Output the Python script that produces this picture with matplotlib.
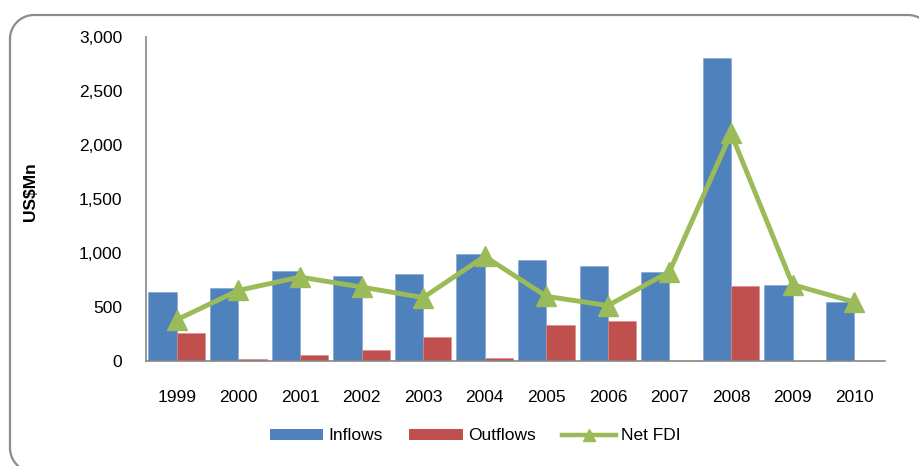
import matplotlib
matplotlib.use("Agg")
import matplotlib.pyplot as plt
import numpy as np
from matplotlib.lines import Line2D
from matplotlib.patches import Patch

years = ["1999", "2000", "2001", "2002", "2003", "2004", "2005", "2006", "2007", "2008", "2009", "2010"]
inflows = [640, 676, 830, 787, 806, 994, 935, 880, 827, 2806, 707, 546]
outflows = [258, 22, 53, 102, 219, 25, 336, 367, 0, 698, 0, 0]
net_fdi = [382, 654, 777, 685, 587, 969, 599, 513, 827, 2108, 707, 546]
yticks = [0, 500, 1000, 1500, 2000, 2500, 3000]

plt.rcParams['font.family'] = ['Liberation Sans', 'DejaVu Sans']

W, H = 919, 466
fig = plt.figure(figsize=(W / 100, H / 100), dpi=100)

# background frame axes in pixel units (y downward)
bg = fig.add_axes([0, 0, 1, 1])
bg.set_xlim(0, W)
bg.set_ylim(H, 0)
bg.axis('off')
fl, ft, fr, fb, r = 10, 15, 932, 472, 24
t = np.linspace(0, np.pi / 2, 30)
xs, ys = [], []
# top-left corner (from left edge to top edge)
xs += list(fl + r - r * np.cos(t)); ys += list(ft + r - r * np.sin(t))
# top-right corner
xs += list(fr - r + r * np.sin(t)); ys += list(ft + r - r * np.cos(t))
# bottom-right corner
xs += list(fr - r + r * np.cos(t)); ys += list(fb - r + r * np.sin(t))
# bottom-left corner
xs += list(fl + r - r * np.sin(t)); ys += list(fb - r + r * np.cos(t))
xs.append(xs[0]); ys.append(ys[0])
bg.plot(xs, ys, color='#8c8c8c', linewidth=1.6, clip_on=False, solid_capstyle='round')

left, right, bottom, top = 146, 885, 361, 37
ax = fig.add_axes([left / W, 1 - bottom / H, (right - left) / W, (bottom - top) / H])
ax.patch.set_alpha(0)

x = np.arange(len(years))
bw = 0.46
ax.bar(x - bw / 2, inflows, width=bw, color='#4F81BD', edgecolor='#7fa3d3', linewidth=0.4, zorder=2)
ax.bar(x + bw / 2, outflows, width=bw, color='#C0504D', edgecolor='#d88a88', linewidth=0.4, zorder=2)
ax.plot(x, net_fdi, color='#9BBB59', linewidth=3.5, marker='^', markersize=14,
        markerfacecolor='#9BBB59', markeredgecolor='#9BBB59', zorder=3)

ax.set_xlim(-0.5, len(years) - 0.5)
ax.set_ylim(0, 3000)
ax.set_yticks(yticks)
ax.set_yticklabels([f"{v:,}" for v in yticks])
ax.set_xticks(x)
ax.set_xticklabels(years)
ax.tick_params(axis='y', length=0, pad=17, labelsize=12.5)
ax.tick_params(axis='x', length=0, pad=21, labelsize=12.5)
for s in ['top', 'right']:
    ax.spines[s].set_visible(False)
for s in ['left', 'bottom']:
    ax.spines[s].set_color('#868686')
    ax.spines[s].set_linewidth(1.2)

fig.text(30 / W, 1 - 192 / H, "US$Mn", rotation=90, fontsize=12.5, fontweight='bold',
         ha='center', va='center')

handles = [Patch(facecolor='#4F81BD', edgecolor='none'),
           Patch(facecolor='#C0504D', edgecolor='none'),
           Line2D([], [], color='#9BBB59', linewidth=3.2, marker='^', markersize=9,
                  markerfacecolor='#9BBB59', markeredgecolor='#9BBB59')]
fig.legend(handles, ["Inflows", "Outflows", "Net FDI"], loc='center',
           bbox_to_anchor=(475 / W, 1 - 436 / H), ncol=3, frameon=False,
           fontsize=12.5, handlelength=3.1, handleheight=0.65, handletextpad=0.3,
           columnspacing=1.5)

fig.savefig("out.png", dpi=100)
